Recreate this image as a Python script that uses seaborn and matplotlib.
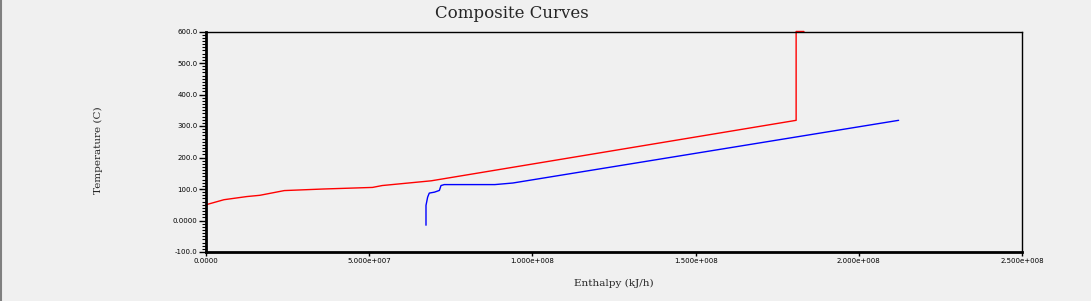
import matplotlib
matplotlib.use("Agg")
import matplotlib.pyplot as plt
from matplotlib.ticker import MultipleLocator, FixedLocator
import seaborn as sns
import pandas as pd

# Hot composite curve (enthalpy kJ/h, temperature C)
hot_h = [0.0, 0.55e7, 1.25e7, 1.65e7, 2.4e7, 3.6e7, 5.1e7, 5.4e7, 6.9e7, 1.808e8, 1.808e8, 1.832e8]
hot_t = [50.0, 66.0, 76.0, 80.0, 95.0, 100.0, 105.0, 111.0, 126.0, 318.0, 600.0, 600.0]

# Cold composite curve
cold_h = [6.74e7, 6.74e7, 6.79e7, 6.84e7, 7.0e7, 7.15e7, 7.2e7, 7.3e7, 8.85e7, 9.4e7, 2.122e8]
cold_t = [-15.0, 48.0, 74.0, 87.0, 90.0, 95.5, 111.0, 114.0, 114.0, 119.0, 318.0]

x_ticks = [0.0, 5e7, 1e8, 1.5e8, 2e8, 2.5e8]
x_tick_labels = ["0.0000", "5.000e+007", "1.000e+008", "1.500e+008", "2.000e+008", "2.500e+008"]
y_ticks = [-100, 0, 100, 200, 300, 400, 500, 600]
y_tick_labels = ["-100.0", "0.0000", "100.0", "200.0", "300.0", "400.0", "500.0", "600.0"]

bg = "#f0f0f0"
sns.set_style("white", {"axes.facecolor": bg, "figure.facecolor": bg})
plt.rcParams["font.family"] = ["DejaVu Sans"]

fig = plt.figure(figsize=(10.91, 3.01), dpi=100)
fig.patch.set_facecolor(bg)
ax = fig.add_axes([206 / 1091, 1 - 252 / 301, (1022 - 206) / 1091, (252 - 31.5) / 301])
ax.set_facecolor(bg)

hot_df = pd.DataFrame({"H": hot_h, "T": hot_t})
cold_df = pd.DataFrame({"H": cold_h, "T": cold_t})
sns.lineplot(data=hot_df, x="H", y="T", sort=False, estimator=None, color="#ff0000",
             linewidth=1.0, ax=ax, clip_on=False)
sns.lineplot(data=cold_df, x="H", y="T", sort=False, estimator=None, color="#0000ff",
             linewidth=1.0, ax=ax)

ax.set_xlim(0, 2.5e8)
ax.set_ylim(-100, 600)
ax.xaxis.set_major_locator(FixedLocator(x_ticks))
ax.set_xticklabels(x_tick_labels)
ax.yaxis.set_major_locator(FixedLocator(y_ticks))
ax.set_yticklabels(y_tick_labels)
ax.yaxis.set_minor_locator(MultipleLocator(10))

ax.tick_params(axis="y", which="both", left=True)
ax.tick_params(axis="x", which="major", bottom=True)
ax.tick_params(axis="y", which="major", direction="out", length=5, width=1.0,
               labelsize=5, pad=1, colors="black")
ax.tick_params(axis="y", which="minor", direction="out", length=3, width=0.8, colors="black")
ax.tick_params(axis="x", which="major", direction="out", length=3, width=1.0,
               labelsize=5, pad=1.5, colors="black")
ax.tick_params(axis="x", which="minor", bottom=False)

for side in ["top", "right"]:
    ax.spines[side].set_visible(True)
    ax.spines[side].set_linewidth(1.0)
    ax.spines[side].set_color("black")
for side in ["left", "bottom"]:
    ax.spines[side].set_linewidth(2.0)
    ax.spines[side].set_color("black")

ax.set_xlabel("")
ax.set_ylabel("")

fig.text(512 / 1091, 1 - 13 / 301, "Composite Curves", ha="center", va="center",
         fontsize=12, family="DejaVu Serif")
fig.text(614 / 1091, 1 - 283 / 301, "Enthalpy (kJ/h)", ha="center", va="center",
         fontsize=7.5, family="DejaVu Serif")
fig.text(98 / 1091, 1 - 150 / 301, "Temperature (C)", ha="center", va="center",
         rotation=90, fontsize=7.5, family="DejaVu Serif")

# left window border
fig.add_artist(plt.Line2D([0.5 / 1091, 0.5 / 1091], [0, 1], color="#808080", linewidth=1.5,
                          transform=fig.transFigure))

fig.savefig("out.png", dpi=100, facecolor=bg)
